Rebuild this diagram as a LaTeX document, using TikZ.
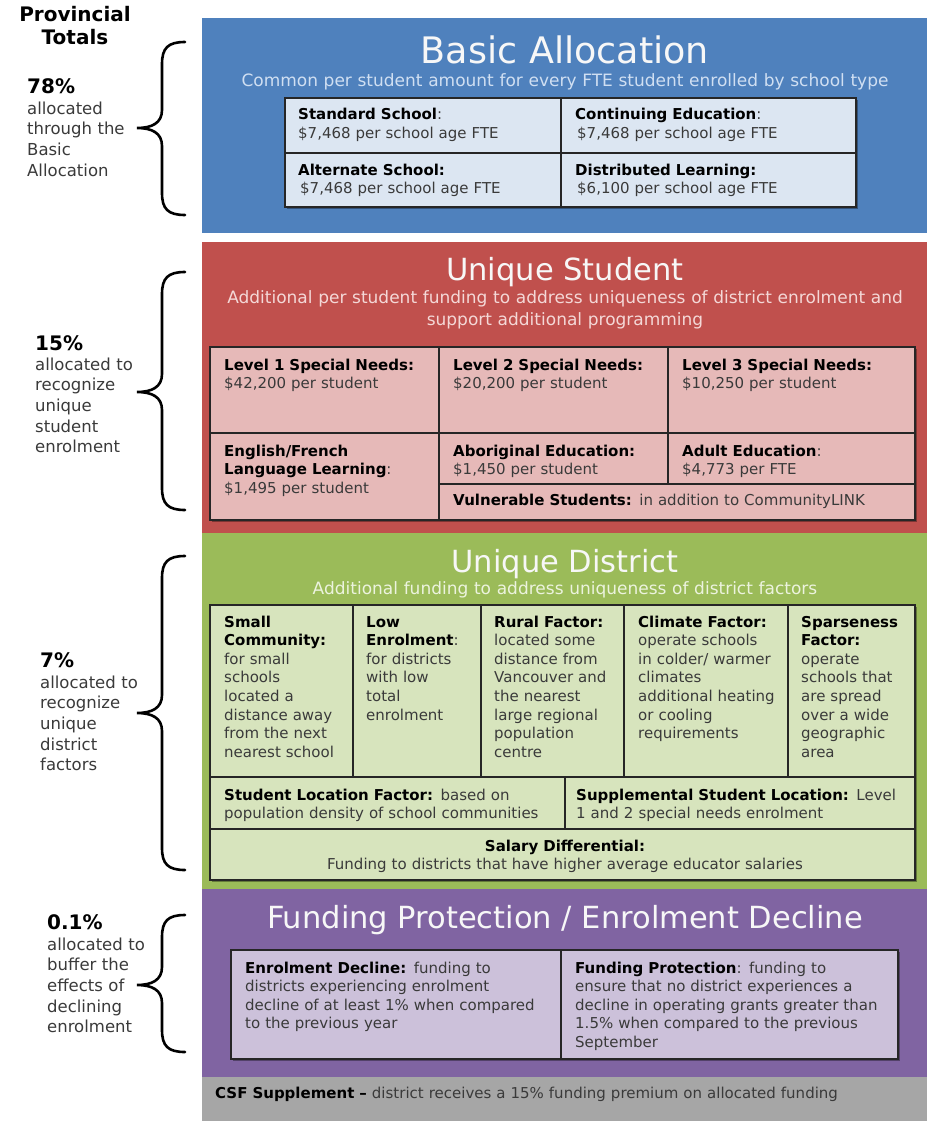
\documentclass[tikz,border=0pt]{standalone}
\usepackage{fontspec}
\setmainfont{DejaVu Sans}
\definecolor{blueP}{HTML}{4F81BD}
\definecolor{blueF}{HTML}{DCE6F2}
\definecolor{blueS}{HTML}{D0DFF2}
\definecolor{redP}{HTML}{C0504D}
\definecolor{redF}{HTML}{E6B9B8}
\definecolor{redS}{HTML}{F4D8D7}
\definecolor{greenP}{HTML}{9BBB59}
\definecolor{greenF}{HTML}{D7E4BD}
\definecolor{greenS}{HTML}{ECF3DE}
\definecolor{purpP}{HTML}{8064A2}
\definecolor{purpF}{HTML}{CCC1DA}
\definecolor{grayP}{HTML}{A6A6A6}
\definecolor{bodygray}{HTML}{3A3A3A}
\definecolor{tblline}{HTML}{262626}
\definecolor{titlewhite}{HTML}{F7F7F7}
\newcommand\lb[1]{{\bfseries\color{black}#1}}
\begin{document}
\begin{tikzpicture}[x=1pt,y=-1pt,
  ptitle/.style={anchor=base, inner sep=0, text=titlewhite, font=\fontsize{30.5}{36}\selectfont},
  psub/.style={anchor=base, inner sep=0, text width=740, align=center, font=\fontsize{17}{22.5}\selectfont},
  cell/.style={anchor=base west, inner sep=0, text width=#1, align=left, text=bodygray, font=\fontsize{15}{18.6}\selectfont},
  cell/.default=330,
  tbl/.style={draw=tblline, line width=1.8},
  tblshadow/.style={fill=black, opacity=0.35},
  pct/.style={anchor=base west, inner sep=0, font=\fontsize{20}{24}\selectfont\bfseries},
  lefttxt/.style={anchor=base west, inner sep=0, text width=120, align=left, text=bodygray, font=\fontsize{16.5}{20.7}\selectfont},
  braceline/.style={line width=2.6, line cap=round, black}
]
\useasboundingbox (0,0) rectangle (930,1121);
\fill[white] (0,0) rectangle (930,1121);

% ---------- panels ----------
\fill[blueP] (202,18) rectangle (927,233);
\fill[redP] (202,242) rectangle (927,533);
\fill[greenP] (202,533) rectangle (927,889);
\fill[purpP] (202,889) rectangle (927,1077);
\fill[grayP] (202,1077) rectangle (927,1121);

% ---------- Basic Allocation ----------
\node[ptitle, font=\fontsize{36.5}{40}\selectfont] (tBasic) at (565,64) {Basic Allocation};
\node[psub, text=blueS] (sBasic) at (565,87) {Common per student amount for every FTE student enrolled by school type};
\fill[tblshadow] (287,100) rectangle (858,209);
\filldraw[tbl, fill=blueF] (285,98) rectangle (856,207);
\draw[tbl] (561,98) -- (561,207);
\draw[tbl] (285,153) -- (856,153);
\node[cell=260] (bStd) at (298,120) {\lb{Standard School}:\\\$7,468 per school age FTE};
\node[cell=270] (bCont) at (575,120) {\lb{Continuing Education}:\\\hspace*{2pt}\$7,468 per school age FTE};
\node[cell=260] (bAlt) at (298,175) {\lb{Alternate School:}\\\hspace*{2pt}\$7,468 per school age FTE};
\node[cell=270] (bDist) at (575,175) {\lb{Distributed Learning:}\\\hspace*{2pt}\$6,100 per school age FTE};

% ---------- Unique Student ----------
\node[ptitle] (tStu) at (565,280) {Unique Student};
\node[psub, text=redS] (sStu) at (565,303) {Additional per student funding to address uniqueness of district enrolment and\\support additional programming};
\fill[tblshadow] (212,349) rectangle (917,522);
\filldraw[tbl, fill=redF] (210,347) rectangle (915,520);
\draw[tbl] (439,347) -- (439,520);
\draw[tbl] (668,347) -- (668,484);
\draw[tbl] (210,433) -- (915,433);
\draw[tbl] (439,484) -- (915,484);
\node[cell=220] (sL1) at (224,370) {\lb{Level 1 Special Needs:}\\\$42,200 per student};
\node[cell=220] (sL2) at (453,370) {\lb{Level 2 Special Needs:}\\\$20,200 per student};
\node[cell=230] (sL3) at (682,370) {\lb{Level 3 Special Needs:}\\\$10,250 per student};
\node[cell=220] (sEng) at (224,456) {\lb{English/French}\\\lb{Language Learning}:\\\$1,495 per student};
\node[cell=220] (sAbo) at (453,456) {\lb{Aboriginal Education:}\\\$1,450 per student};
\node[cell=230] (sAdu) at (682,456) {\lb{Adult Education}:\\\$4,773 per FTE};
\node[cell=460] (sVul) at (453,505) {\lb{Vulnerable Students:} in addition to CommunityLINK};

% ---------- Unique District ----------
\node[ptitle] (tDis) at (565,572) {Unique District};
\node[psub, text=greenS] (sDis) at (565,594) {Additional funding to address uniqueness of district factors};
\fill[tblshadow] (212,607) rectangle (917,882);
\filldraw[tbl, fill=greenF] (210,605) rectangle (915,880);
\foreach \cx in {353,481,624,788} \draw[tbl] (\cx,605) -- (\cx,777);
\draw[tbl] (210,777) -- (915,777);
\draw[tbl] (210,829) -- (915,829);
\draw[tbl] (565,777) -- (565,829);
\node[cell=135] (dSmall) at (224,627) {\lb{Small}\\\lb{Community:}\\for small\\schools\\located a\\distance away\\from the next\\nearest school};
\node[cell=120] (dLow) at (366,627) {\lb{Low}\\\lb{Enrolment}:\\for districts\\with low\\total\\enrolment};
\node[cell=140] (dRural) at (494,627) {\lb{Rural Factor:}\\located some\\distance from\\Vancouver and\\the nearest\\large regional\\population\\centre};
\node[cell=160] (dClim) at (638,627) {\lb{Climate Factor:}\\operate schools\\in colder/ warmer\\climates\\additional heating\\or cooling\\requirements};
\node[cell=120] (dSparse) at (801,627) {\lb{Sparseness}\\\lb{Factor:}\\operate\\schools that\\are spread\\over a wide\\geographic\\area};
\node[cell=340] (dLoc) at (224,800) {\lb{Student Location Factor:} based on\\population density of school communities};
\node[cell=340] (dSup) at (576,800) {\lb{Supplemental Student Location:} Level\\1 and 2 special needs enrolment};
\node[anchor=base, inner sep=0, text width=700, align=center, text=bodygray, font=\fontsize{15}{18.6}\selectfont] (dSal) at (565,851) {\lb{Salary Differential:}\\Funding to districts that have higher average educator salaries};

% ---------- Funding Protection ----------
\node[ptitle] (tFund) at (565,928) {Funding Protection / Enrolment Decline};
\fill[tblshadow] (233,952) rectangle (900,1061);
\filldraw[tbl, fill=purpF] (231,950) rectangle (898,1059);
\draw[tbl] (561,950) -- (561,1059);
\node[cell=310] (fDec) at (245,973) {\lb{Enrolment Decline:} funding to\\districts experiencing enrolment\\decline of at least 1\% when compared\\to the previous year};
\node[cell=320] (fProt) at (575,973) {\lb{Funding Protection}: funding to\\ensure that no district experiences a\\decline in operating grants greater than\\1.5\% when compared to the previous\\September};

% ---------- CSF ----------
\node[cell=700] (csf) at (215,1098) {\lb{CSF Supplement –} district receives a 15\% funding premium on allocated funding};

% ---------- left column ----------
\node[anchor=base, inner sep=0, text width=150, align=center, font=\fontsize{20}{23}\selectfont\bfseries] (prov) at (75,22) {Provincial\\Totals};
\node[pct] (p78) at (27,94) {78\%};
\node[lefttxt] (l78) at (27,114) {allocated\\through the\\Basic\\Allocation};
\node[pct] (p15) at (35,350) {15\%};
\node[lefttxt] (l15) at (35,370) {allocated to\\recognize\\unique\\student\\enrolment};
\node[pct] (p7) at (40,667) {7\%};
\node[lefttxt] (l7) at (40,688) {allocated to\\recognize\\unique\\district\\factors};
\node[pct] (p01) at (47,929) {0.1\%};
\node[lefttxt] (l01) at (47,950) {allocated to\\buffer the\\effects of\\declining\\enrolment};

% ---------- braces ----------
\foreach \t/\m/\b in {42/128/215, 272/392/510, 556/713/870, 915/985/1052} {
  \draw[braceline] (185,\t) .. controls (168,\t) and (162,\t+6) .. (162,\t+22)
    -- (162,\m-18) .. controls (162,\m-5) and (152,\m) .. (137,\m)
    .. controls (152,\m) and (162,\m+5) .. (162,\m+18)
    -- (162,\b-22) .. controls (162,\b-6) and (168,\b) .. (185,\b);
}
\end{tikzpicture}
\end{document}
